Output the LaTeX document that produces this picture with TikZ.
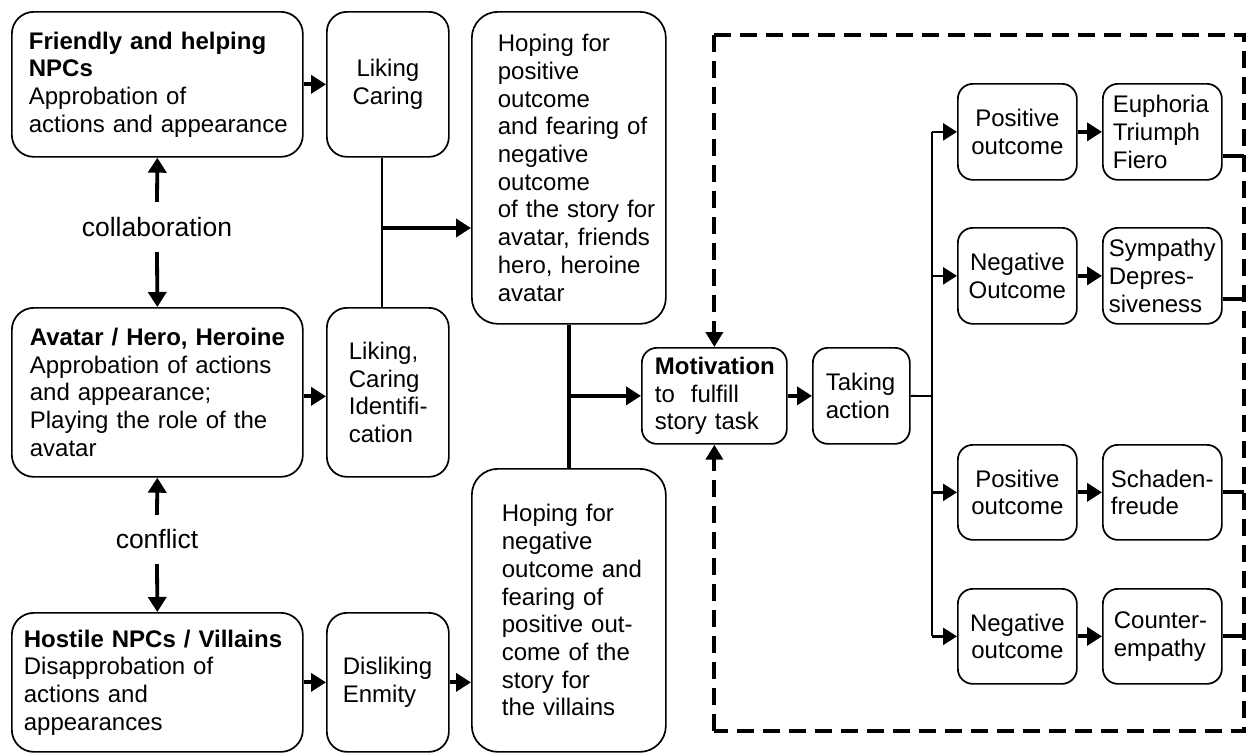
\documentclass[tikz,border=0pt]{standalone}
\usepackage{fontspec}
\setmainfont{Liberation Sans}
\usetikzlibrary{arrows.meta,calc}
\newcommand\boxfont{\fontsize{24pt}{27.7pt}\selectfont}
\newcommand\lblfont{\fontsize{26.5pt}{30pt}\selectfont}
\newcommand\lpad[1]{\leftskip=#1pt\relax}
\tikzset{
  box/.style={draw, line width=1.7pt, rounded corners=15pt, anchor=north west,
    inner xsep=0pt, inner ysep=0pt, font=\boxfont},
  lbox/.style 2 args={box, text width=#1pt, minimum height=#2pt, align=left},
  cbox/.style 2 args={box, text width=#1pt, minimum height=#2pt, align=center},
  bigr/.style={rounded corners=22pt},
  hoper/.style={rounded corners=26pt},
  midr/.style={rounded corners=20pt},
  lbl/.style={inner sep=0pt, font=\lblfont},
  arr/.style={line width=3.8pt, -{Triangle[length=15pt,width=18pt]}},
  midarr/.style={line width=2.6pt, -{Triangle[length=14pt,width=17pt]}},
  thinline/.style={line width=1.8pt},
  thickline/.style={line width=3.8pt},
  dashline/.style={line width=3.8pt, dash pattern=on 17pt off 9pt},
}
\begin{document}
\begin{tikzpicture}[x=1pt,y=-1pt]
\useasboundingbox[fill=white] (0,0) rectangle (1247,753);
% left column
\node[lbox={291}{145}, bigr] (friendly) at (11,11) {\lpad{17}\textbf{Friendly and helping}\\\textbf{NPCs}\\Approbation of\\actions and appearance\par};
\node[lbox={291}{169}, bigr] (avatar) at (11,307) {\lpad{18}\textbf{Avatar / Hero, Heroine}\\Approbation of actions\\and appearance;\\Playing the role of the\\avatar\par};
\node[lbox={291}{139}, bigr] (hostile) at (11,612) {\lpad{12}\textbf{Hostile NPCs / Villains}\\Disapprobation of\\actions and\\appearances\par};
% second column
\node[cbox={122}{145}, midr] (liking1) at (326,11) {Liking\\Caring\\[14pt]};
\node[lbox={122}{169}, midr] (liking2) at (326,307) {\lpad{22}Liking,\\Caring\\Identifi-\\cation\par};
\node[lbox={122}{139}, midr] (disliking) at (326,612) {\lpad{16}Disliking\\Enmity\\[4pt]\par};
% third column
\node[lbox={194}{312}, hoper] (hoping1) at (471,11) {\lpad{26}Hoping for\\positive\\outcome\\and fearing of\\negative\\outcome\\of the story for\\avatar, friends\\hero, heroine\\avatar\par};
\node[lbox={194}{283}, hoper] (hoping2) at (471,468) {\lpad{30}Hoping for\\negative\\outcome and\\fearing of\\positive out-\\come of the\\story for\\the villains\par};
% centre
\node[lbox={145}{96}] (motivation) at (641,347) {\lpad{13}\textbf{Motivation}\\to\ \ fulfill\\story task\par};
\node[lbox={97}{96}] (taking) at (812,347) {\lpad{13}Taking\\action\par};
% right
\node[cbox={119}{96}] (pos1) at (957,83) {Positive\\outcome};
\node[lbox={119}{96}] (euph) at (1102,83) {\lpad{10}Euphoria\\Triumph\\Fiero\par};
\node[cbox={119}{96}] (neg1) at (957,227) {Negative\\Outcome};
\node[lbox={119}{96}] (symp) at (1102,227) {\lpad{6}Sympathy\\Depres-\\siveness\par};
\node[cbox={119}{95}] (pos2) at (957,444) {Positive\\outcome};
\node[lbox={119}{95}] (schad) at (1102,444) {\lpad{8}Schaden-\\freude\par};
\node[cbox={119}{95}] (neg2) at (957,588) {Negative\\outcome};
\node[lbox={119}{95}] (counter) at (1102,588) {\lpad{11}Counter-\\empathy\par};
% labels
\node[lbl, minimum height=50pt] (collab) at (157,227) {collaboration};
\node[lbl, minimum height=49pt] (conflict) at (157,539.5) {conflict};
% left arrows
\draw[arr] (collab.north) -- (friendly.south);
\draw[arr] (collab.south) -- (avatar.north);
\draw[arr] (conflict.north) -- (avatar.south);
\draw[arr] (conflict.south) -- (hostile.north);
\draw[arr] (friendly.east) -- (liking1.west);
\draw[arr] ([yshift=-4pt]avatar.east) -- ([yshift=-4pt]liking2.west);
\draw[arr] (hostile.east) -- (disliking.west);
\draw[arr] (disliking.east) -- (disliking.east -| hoping2.west);
% liking junction
\coordinate (j1) at (382,228);
\draw[thinline] (j1 |- liking1.south) -- (j1 |- liking2.north);
\draw[arr] (j1) -- (j1 -| hoping1.west);
% hoping junction
\draw[thickline] (hoping1.south) -- (hoping2.north);
\coordinate (j2) at (hoping1.south |- motivation.west);
\draw[arr] (j2) -- (motivation.west);
\draw[arr] (motivation.east) -- (taking.west);
% taking branches
\coordinate (j3) at (932,396);
\draw[thinline] (taking.east) -- (j3);
\draw[thinline] (j3 |- pos1.west) -- (j3 |- neg2.west);
\draw[midarr] (j3 |- pos1.west) -- (pos1.west);
\draw[midarr] (j3 |- neg1.west) -- (neg1.west);
\draw[midarr] (j3 |- pos2.west) -- (pos2.west);
\draw[midarr] (j3 |- neg2.west) -- (neg2.west);
\draw[arr] (pos1.east) -- (euph.west);
\draw[arr] (neg1.east) -- (symp.west);
\draw[arr] (pos2.east) -- (schad.west);
\draw[arr] (neg2.east) -- (counter.west);
% dashed feedback frame
\coordinate (dtl) at (motivation.north |- 0,35);
\coordinate (dtr) at (1244,35);
\coordinate (dbr) at (1244,731);
\coordinate (dbl) at (motivation.south |- 0,731);
\draw[dashline] (dtl) -- (dtr) -- (dbr) -- (dbl);
\draw[dashline, -{Triangle[length=15pt,width=17pt]}] (dtl) -- (motivation.north);
\draw[dashline, -{Triangle[length=15pt,width=17pt]}] (dbl) -- (motivation.south);
% outputs to frame
\draw[thickline] ([yshift=-24pt]euph.east) -- ([yshift=-24pt]euph.east -| dtr);
\draw[thickline] ([yshift=-23pt]symp.east) -- ([yshift=-23pt]symp.east -| dtr);
\draw[thickline] (schad.east) -- (schad.east -| dtr);
\draw[thickline] (counter.east) -- (counter.east -| dtr);
\end{tikzpicture}
\end{document}
